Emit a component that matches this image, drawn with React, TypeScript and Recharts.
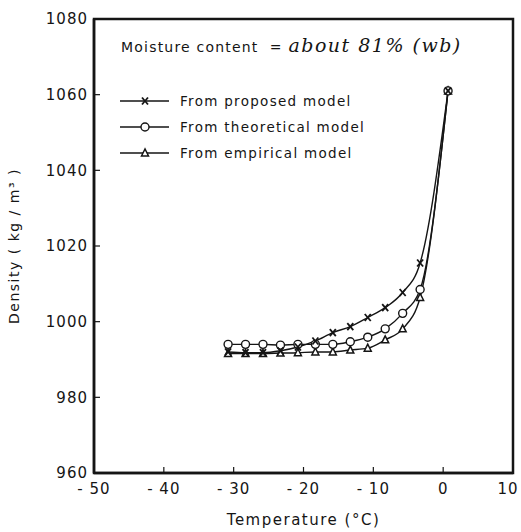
import React from 'react';
import { LineChart, Line, XAxis, YAxis, ReferenceArea, Label } from 'recharts';

// values
const temps = [-30.8, -28.3, -25.8, -23.3, -20.8, -18.3, -15.8, -13.3, -10.8, -8.3, -5.8, -3.3, 0.7];
const proposed = [992.0, 991.8, 991.8, 992.3, 993.3, 994.9, 997.1, 998.7, 1001.1, 1003.7, 1007.7, 1015.5, 1061];
const theoretical = [994.0, 994.0, 994.0, 993.8, 994.0, 994.0, 994.0, 994.7, 995.9, 998.1, 1002.2, 1008.5, 1061];
const empirical = [991.6, 991.6, 991.6, 991.7, 991.8, 992.0, 992.0, 992.5, 993.0, 995.2, 998.1, 1006.4, 1061];

const xTicks = [-50, -40, -30, -20, -10, 0, 10];
const yTicks = [960, 980, 1000, 1020, 1040, 1060, 1080];

const legendItems = [
  { label: 'From proposed model', shape: 'cross' },
  { label: 'From theoretical model', shape: 'circle' },
  { label: 'From empirical model', shape: 'triangle' },
];

const data = temps.map((t, i) => ({
  t,
  proposed: proposed[i],
  theoretical: theoretical[i],
  empirical: empirical[i],
}));

const INK = '#151515';
const FONT = '"DejaVu Sans", sans-serif';

function Marker({ shape, cx, cy }: { shape: string; cx: number; cy: number }) {
  if (shape === 'circle') {
    return <circle cx={cx} cy={cy} r={4} fill="#fff" stroke={INK} strokeWidth={1.4} />;
  }
  if (shape === 'triangle') {
    return (
      <polygon
        points={`${cx},${cy - 4} ${cx - 3.5},${cy + 3} ${cx + 3.5},${cy + 3}`}
        fill="#fff"
        stroke={INK}
        strokeWidth={1.5}
      />
    );
  }
  return (
    <g stroke={INK} strokeWidth={1.8}>
      <line x1={cx - 3} y1={cy - 3.5} x2={cx + 3} y2={cy + 3.5} />
      <line x1={cx + 3} y1={cy - 3.5} x2={cx - 3} y2={cy + 3.5} />
    </g>
  );
}

const dotFor = (shape: string) => (props: any) =>
  <Marker key={props.index} shape={shape} cx={props.cx} cy={props.cy} />;

const fmtX = (v: number) => (v < 0 ? `- ${Math.abs(v)}` : `${v}`);

// x tick labels: the last one is pulled in so it stays inside the frame
function XTick({ x, y, payload }: any) {
  const last = payload.value === xTicks[xTicks.length - 1];
  return (
    <text x={last ? x - 5 : x} y={y} dy="0.71em" textAnchor="middle"
      fill={INK} fontSize={15} fontFamily={FONT} letterSpacing={1}>
      {fmtX(payload.value)}
    </text>
  );
}

export default function App() {
  return (
    <div style={{ position: 'absolute', left: 0, top: 0, width: 521, height: 532, background: '#fff' }}>
      <LineChart width={521} height={532} data={data} margin={{ top: 19, right: 8, bottom: 29, left: 0 }}>
        <XAxis
          dataKey="t"
          type="number"
          domain={[-50, 10]}
          ticks={xTicks}
          height={30}
          axisLine={{ stroke: INK, strokeWidth: 2.5 }}
          tickLine={{ stroke: INK, strokeWidth: 1.2 }}
          tickSize={-6}
          tickMargin={16}
          tick={<XTick />}
          interval={0}
        >
          <Label value="Temperature  (°C)" position="insideBottom" offset={-22}
            style={{ fill: INK, fontSize: 15, fontFamily: FONT, letterSpacing: 1.5 }} />
        </XAxis>
        <YAxis
          type="number"
          domain={[960, 1080]}
          ticks={yTicks}
          width={94}
          axisLine={{ stroke: INK, strokeWidth: 2.5 }}
          tickLine={{ stroke: INK, strokeWidth: 1.2 }}
          tickSize={-6}
          tickMargin={12}
          tick={{ fill: INK, fontSize: 15, fontFamily: FONT, letterSpacing: 1 }}
          interval={0}
        >
          <Label value="Density  ( kg / m³ )" angle={-90} position="insideLeft" offset={14}
            style={{ fill: INK, fontSize: 14, fontFamily: FONT, letterSpacing: 1.5, textAnchor: 'middle' }} />
        </YAxis>
        <ReferenceArea x1={-50} x2={10} y1={960} y2={1080} fill="none" stroke={INK} strokeWidth={2.5} />
        <Line type="monotone" dataKey="empirical" stroke={INK} strokeWidth={1.4}
          dot={dotFor('triangle')} activeDot={false} isAnimationActive={false} />
        <Line type="monotone" dataKey="theoretical" stroke={INK} strokeWidth={1.4}
          dot={dotFor('circle')} activeDot={false} isAnimationActive={false} />
        <Line type="monotone" dataKey="proposed" stroke={INK} strokeWidth={1.4}
          dot={dotFor('cross')} activeDot={false} isAnimationActive={false} />
      </LineChart>

      <div style={{ position: 'absolute', left: 121, top: 34, fontFamily: FONT, fontSize: 14, color: INK, letterSpacing: 1.2, whiteSpace: 'nowrap' }}>
        Moisture content&nbsp; =&nbsp;
        <span style={{ fontFamily: '"DejaVu Serif", serif', fontStyle: 'italic', fontSize: 19, letterSpacing: 1.5 }}>
          about 81% (wb)
        </span>
      </div>

      <div style={{ position: 'absolute', left: 119, top: 88, fontFamily: FONT, fontSize: 13.5, color: INK, letterSpacing: 1.3 }}>
        {legendItems.map((item) => (
          <div key={item.label} style={{ display: 'flex', alignItems: 'center', height: 26 }}>
            <svg width={52} height={12} style={{ marginRight: 9 }}>
              <line x1={1} y1={6} x2={50} y2={6} stroke={INK} strokeWidth={1.4} />
              <Marker shape={item.shape} cx={26} cy={6} />
            </svg>
            <span>{item.label}</span>
          </div>
        ))}
      </div>
    </div>
  );
}
